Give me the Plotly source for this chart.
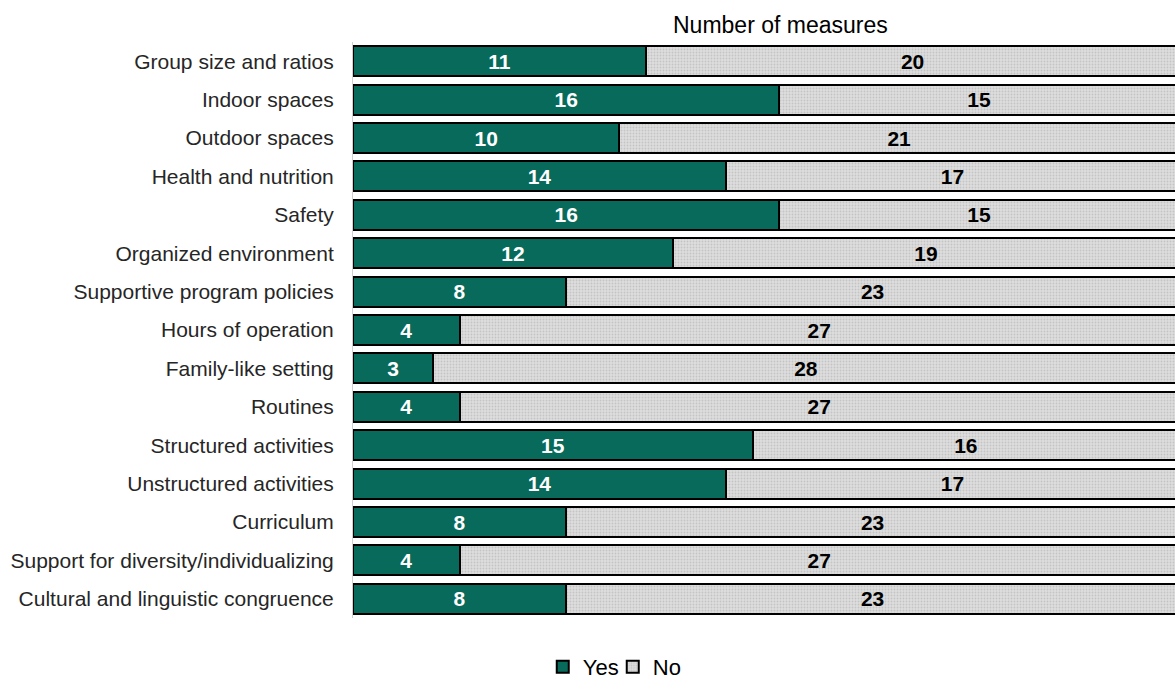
import plotly.graph_objects as go

categories = ["Group size and ratios", "Indoor spaces", "Outdoor spaces", "Health and nutrition",
              "Safety", "Organized environment", "Supportive program policies", "Hours of operation",
              "Family-like setting", "Routines", "Structured activities", "Unstructured activities",
              "Curriculum", "Support for diversity/individualizing", "Cultural and linguistic congruence"]
yes_vals = [11, 16, 10, 14, 16, 12, 8, 4, 3, 4, 15, 14, 8, 4, 8]
no_vals = [20, 15, 21, 17, 15, 19, 23, 27, 28, 27, 16, 17, 23, 27, 23]

FONT = "Liberation Sans, Arial"

fig = go.Figure()
fig.add_trace(go.Bar(
    y=categories, x=yes_vals, orientation="h", name="Yes",
    marker=dict(color="#086A5A", line=dict(color="#000000", width=2)),
    text=yes_vals, textposition="inside", insidetextanchor="middle",
    textfont=dict(color="white", size=21, family=FONT, weight="bold"),
))
fig.add_trace(go.Bar(
    y=categories, x=no_vals, orientation="h", name="No",
    marker=dict(color="#DADADA", line=dict(color="#000000", width=2),
                pattern=dict(shape=".", size=3, solidity=0.3, fgcolor="#C4C4C4", bgcolor="#DEDEDE", fillmode="replace")),
    text=no_vals, textposition="inside", insidetextanchor="middle",
    textfont=dict(color="black", size=21, family=FONT, weight="bold"),
))

fig.update_layout(
    width=1175, height=679,
    barmode="stack", bargap=0.22,
    plot_bgcolor="white", paper_bgcolor="white",
    margin=dict(l=353, r=0, t=42, b=61, autoexpand=False),
    font=dict(family=FONT, size=19, color="#262626"),
    uniformtext=dict(mode=False),
    xaxis=dict(range=[0, 30.85], showticklabels=False, showgrid=False, zeroline=False,
               showline=False, ticks="", automargin=False, fixedrange=True),
    yaxis=dict(autorange="reversed", showgrid=False, zeroline=False, showline=True,
               linecolor="#D0D0D0", linewidth=1, ticks="", ticklabelstandoff=14, automargin=False,
               tickfont=dict(size=21, color="#262626")),
    legend=dict(orientation="h", x=0.316, xref="paper", xanchor="center", y=-0.085, yanchor="middle",
                font=dict(size=22, color="#000000"), traceorder="normal", itemwidth=30,
                entrywidth=25, entrywidthmode="pixels"),
    annotations=[dict(text="Number of measures", x=0.52, xref="paper", y=1.0, yref="paper",
                      yanchor="bottom", yshift=2, showarrow=False,
                      font=dict(size=23, color="#000000", family=FONT))],
)

fig.write_html("out.html", config={"displayModeBar": False},
               post_script="document.body.style.margin='0';document.body.style.overflow='hidden';")
